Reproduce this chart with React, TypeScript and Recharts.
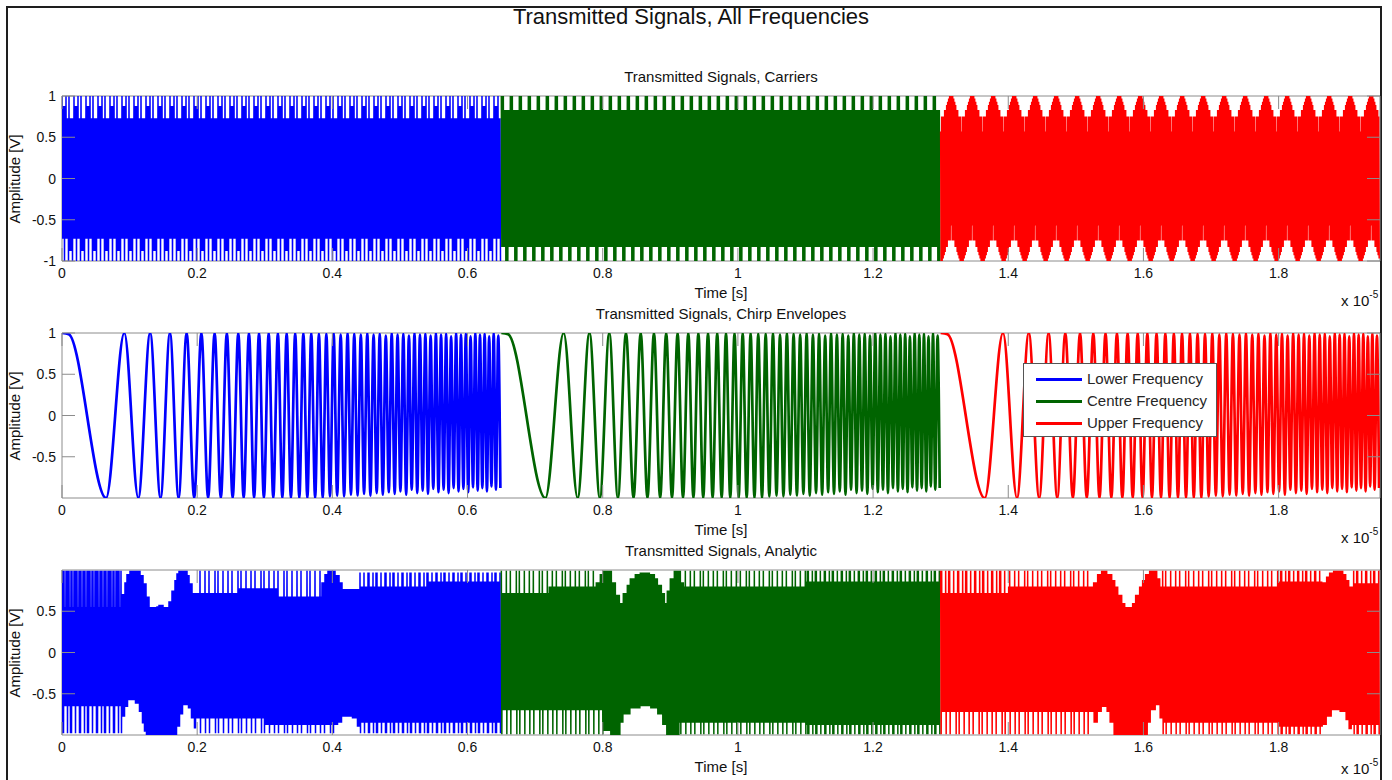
import React from 'react';
import { LineChart, Line, XAxis, YAxis, ReferenceArea } from 'recharts';

// ---------- data ----------

// time axis, in units of 1e-5 s
const timeDomain: [number, number] = [0, 1.95];
const timeTicks = [0, 0.2, 0.4, 0.6, 0.8, 1, 1.2, 1.4, 1.6, 1.8];
const timeTickLabels = ['0', '0.2', '0.4', '0.6', '0.8', '1', '1.2', '1.4', '1.6', '1.8'];

const segmentStarts = [0, 0.65, 1.3];
const segmentLength = 0.65;

const seriesNames = ['Lower Frequency', 'Centre Frequency', 'Upper Frequency'];
const seriesColours = ['#0000ff', '#006400', '#ff0000'];

const panelTitles = [
  'Transmitted Signals, Carriers',
  'Transmitted Signals, Chirp Envelopes',
  'Transmitted Signals, Analytic',
];
const carrierAmpTicks = [-1, -0.5, 0, 0.5, 1];
const chirpAmpTicks = [-0.5, 0, 0.5, 1];
const analyticAmpTicks = [-0.5, 0, 0.5];

// carriers: crest / trough level of each plotted sample over one repeat of the pattern
const lowerCarrierCrests = [1, 0.88, 0.88, 0.88, 1, 0.73, 0.73, 1, 0.73, 0.73, 0.73, 0.73];
const lowerCarrierTroughs = [-0.73, -0.73, -1, -0.73, -0.73, -0.73, -1, -0.88, -0.88, -0.88, -1, -0.73];
const centreCarrierCrests = [1, 1, 1, 0.83, 0.83, 0.83, 0.83, 0.83, 0.83];
const centreCarrierTroughs = [-0.83, -0.83, -0.83, -0.83, -1, -1, -1, -0.83, -0.83];
const upperCarrierCrests = [0.57, 0.75, 0.75, 0.75, 0.83, 0.83, 0.89, 0.93, 0.97, 1, 1, 1, 1, 0.97, 0.93, 0.89, 0.83, 0.83, 0.75, 0.75, 0.75];
const upperCarrierTroughs = [-1, -1, -0.97, -0.93, -0.89, -0.83, -0.83, -0.75, -0.75, -0.75, -0.57, -0.75, -0.75, -0.75, -0.83, -0.83, -0.89, -0.93, -0.97, -1, -1];

// chirp envelope: turning points (time from segment start, level)
const chirpTurnTimes = [
  0, 0.01, 0.0652, 0.0922, 0.1129, 0.1304, 0.1458, 0.1597, 0.1725, 0.1844, 0.1956,
  0.2062, 0.2162, 0.2258, 0.235, 0.2439, 0.2525, 0.2608, 0.2688, 0.2766, 0.2842,
  0.2915, 0.2987, 0.3058, 0.3126, 0.3194, 0.326, 0.3324, 0.3387, 0.345, 0.3511,
  0.3571, 0.363, 0.3688, 0.3745, 0.3801, 0.3857, 0.3911, 0.3965, 0.4019, 0.4071,
  0.4123, 0.4174, 0.4225, 0.4275, 0.4324, 0.4373, 0.4421, 0.4469, 0.4517, 0.4563,
  0.461, 0.4656, 0.4701, 0.4746, 0.4791, 0.4835, 0.4878, 0.4922, 0.4965, 0.5007,
  0.505, 0.5092, 0.5133, 0.5174, 0.5215, 0.5256, 0.5296, 0.5336, 0.5376, 0.5415,
  0.5454, 0.5493, 0.5532, 0.557, 0.5608, 0.5646, 0.5683, 0.572, 0.5757, 0.5794,
  0.5831, 0.5867, 0.5903, 0.5939, 0.5975, 0.601, 0.6045, 0.6081, 0.6115, 0.615,
  0.6184, 0.6219, 0.6253, 0.6287, 0.632, 0.6354, 0.6387, 0.642, 0.6454, 0.6486,
];
const chirpTurnLevels = [
  1, 0.985, -1, 1, -1, 1, -1, 1, -1, 1, -1,
  1, -1, 1, -1, 1, -1, 1, -1, 1, -1,
  1, -1, 1, -1, 1, -1, 1, -1, 1, -1,
  1, -1, 1, -1, 0.99, -1, 0.99, -0.98, 1, -0.97,
  0.98, -0.98, 1, -0.96, 0.99, -0.97, 0.98, -0.95, 1, -0.97,
  0.98, -0.94, 0.99, -0.96, 0.97, -0.93, 1, -0.95, 0.98, -0.92,
  0.99, -0.96, 0.97, -0.9, 1, -0.94, 0.98, -0.91, 0.99, -0.95,
  0.97, -0.89, 1, -0.93, 0.98, -0.9, 0.99, -0.94, 0.96, -0.88,
  1, -0.92, 0.98, -0.89, 0.99, -0.93, 0.96, -0.87, 1, -0.91,
  0.98, -0.88, 0.99, -0.92, 0.96, -0.86, 1, -0.9, 0.97, -0.88,
];

// analytic signal: which samples of a spiky stretch reach the outer level
const spikeMasks = [
  [1, 0, 0, 0, 0, 1, 0, 0, 0, 1, 0, 0, 0, 0, 0, 1, 0, 0, 1, 0, 0, 0, 0],
  [1, 1, 1, 0, 1, 1, 1, 1, 0, 1, 1, 0, 1, 1, 1, 1, 0, 1, 1, 1, 0],
  [1, 1, 0, 0, 0, 1, 0, 0, 1, 1, 0, 0, 0, 1, 0, 0, 0],
];

// analytic signal outline: [time from segment start, outer level, inner level, spike mask]
// rows with two entries are solid (every sample at that level)
type Knot = number[];
const lowerAnalyticUpper: Knot[] = [
  [0, 0.99, 0.55, 1], [0.088, 0.71], [0.092, 0.85], [0.096, 0.95], [0.1, 0.99], [0.116, 0.94],
  [0.12, 0.84], [0.125, 0.68], [0.13, 0.55], [0.14, 0.56], [0.143, 0.58], [0.15, 0.55], [0.158, 0.62],
  [0.162, 0.75], [0.166, 0.88], [0.17, 0.96], [0.173, 0.99], [0.185, 0.94], [0.189, 0.84], [0.193, 0.72],
  [0.197, 0.99, 0.72, 0], [0.26, 0.99, 0.78, 0], [0.32, 0.99, 0.68, 0], [0.384, 0.85], [0.389, 0.95],
  [0.393, 0.99], [0.405, 0.94], [0.41, 0.85], [0.415, 0.77], [0.44, 0.97, 0.8, 2], [0.54, 0.97, 0.86, 2],
];
const lowerAnalyticLower: Knot[] = [
  [0, -0.98, -0.65, 2], [0.088, -0.78], [0.092, -0.66], [0.097, -0.58], [0.108, -0.62], [0.113, -0.72],
  [0.117, -0.86], [0.121, -0.96], [0.124, -1], [0.17, -0.9], [0.174, -0.75], [0.178, -0.64], [0.186, -0.68],
  [0.19, -0.8], [0.194, -0.92], [0.197, -0.98, -0.8, 0], [0.3, -0.98, -0.88, 0], [0.408, -0.85],
  [0.414, -0.78], [0.428, -0.8], [0.436, -0.9], [0.44, -0.98, -0.85, 2],
];
const centreAnalyticUpper: Knot[] = [
  [0, 0.99, 0.72, 0], [0.07, 0.99, 0.8, 0], [0.14, 0.85], [0.146, 0.95], [0.15, 0.99], [0.163, 0.85],
  [0.17, 0.7], [0.175, 0.6], [0.18, 0.72], [0.185, 0.82], [0.19, 0.9], [0.197, 0.95], [0.205, 0.97],
  [0.22, 0.95], [0.227, 0.9], [0.232, 0.82], [0.237, 0.72], [0.242, 0.6], [0.245, 0.75], [0.25, 0.9],
  [0.255, 0.99], [0.265, 0.85], [0.27, 0.99, 0.8, 0], [0.45, 0.99, 0.86, 2],
];
const centreAnalyticLower: Knot[] = [
  [0, -0.99, -0.7, 0], [0.15, -0.95], [0.16, -1], [0.175, -0.85], [0.18, -0.75], [0.19, -0.68],
  [0.205, -0.65], [0.22, -0.68], [0.23, -0.75], [0.237, -0.88], [0.243, -1], [0.262, -0.99, -0.85, 0],
  [0.45, -0.99, -0.88, 2],
];
const upperAnalyticUpper: Knot[] = [
  [0, 0.99, 0.72, 2], [0.1, 0.99, 0.8, 0], [0.225, 0.85], [0.232, 0.95], [0.237, 0.99], [0.247, 0.95],
  [0.253, 0.88], [0.258, 0.8], [0.263, 0.7], [0.268, 0.6], [0.273, 0.55], [0.283, 0.6], [0.288, 0.7],
  [0.293, 0.8], [0.298, 0.88], [0.303, 0.95], [0.308, 0.99], [0.32, 0.9], [0.325, 0.99, 0.8, 0],
  [0.5, 0.99, 0.86, 2], [0.565, 0.85], [0.57, 0.92], [0.575, 0.97], [0.58, 0.99], [0.595, 0.95],
  [0.6, 0.88], [0.605, 0.8], [0.61, 0.99, 0.84, 2],
];
const upperAnalyticLower: Knot[] = [
  [0, -0.99, -0.72, 0], [0.225, -0.85], [0.232, -0.72], [0.237, -0.66], [0.245, -0.72], [0.25, -0.85],
  [0.255, -1], [0.305, -0.85], [0.31, -0.7], [0.318, -0.64], [0.323, -0.8], [0.327, -0.99, -0.85, 0],
  [0.5, -0.99, -0.9, 2], [0.565, -0.88], [0.57, -0.78], [0.578, -0.7], [0.59, -0.72], [0.598, -0.82],
  [0.603, -0.93], [0.608, -0.99, -0.88, 2],
];

// ---------- layout ----------

const FONT = '"Liberation Sans", Arial, Helvetica, sans-serif';
const AXIS_GREY = '#8c8c8c';
const INK = '#111111';
const FIG_W = 1392;
const PLOT_LEFT = 62;
const PLOT_RIGHT = 1380;
const PLOT_H = 165;
const TOP_PAD = 10;
const XAXIS_H = 50;
const TICK_LEN = 13;
const PANEL_TOPS = [96, 333, 570];

// one plotted sample column per screen pixel
const COL = (timeDomain[1] - timeDomain[0]) / (PLOT_RIGHT - PLOT_LEFT);

type Pt = { t: number; v: number };

function knotLevel(knots: Knot[], c: number, rel: number): number {
  let k = knots[0];
  for (const kn of knots) {
    if (kn[0] <= rel + 1e-9) k = kn;
    else break;
  }
  if (k.length < 4) return k[1];
  const mask = spikeMasks[k[3]];
  return mask[c % mask.length] ? k[1] : k[2];
}

function band(start: number, top: (c: number, rel: number) => number, bottom: (c: number, rel: number) => number): Pt[] {
  const n = Math.floor(segmentLength / COL + 1e-6);
  const out: Pt[] = [];
  for (let c = 0; c < n; c++) {
    const rel = c * COL;
    out.push({ t: start + rel, v: top(c, rel) });
    out.push({ t: start + rel + COL / 2, v: bottom(c, rel) });
  }
  return out;
}

const carrierPatterns = [
  [lowerCarrierCrests, lowerCarrierTroughs],
  [centreCarrierCrests, centreCarrierTroughs],
  [upperCarrierCrests, upperCarrierTroughs],
];
const analyticOutlines = [
  [lowerAnalyticUpper, lowerAnalyticLower],
  [centreAnalyticUpper, centreAnalyticLower],
  [upperAnalyticUpper, upperAnalyticLower],
];

const carrierSeries = segmentStarts.map((s, i) =>
  band(
    s,
    (c) => carrierPatterns[i][0][c % carrierPatterns[i][0].length],
    (c) => carrierPatterns[i][1][c % carrierPatterns[i][1].length],
  ),
);
const chirpSeries = segmentStarts.map((s) =>
  chirpTurnTimes.map((t, k) => ({ t: s + t, v: chirpTurnLevels[k] })),
);
const analyticSeries = segmentStarts.map((s, i) =>
  band(
    s,
    (c, rel) => knotLevel(analyticOutlines[i][0], c, rel),
    (c, rel) => knotLevel(analyticOutlines[i][1], c, rel),
  ),
);

// ---------- components ----------

function TimeTick(props: any) {
  const { x, payload } = props;
  const axisY = TOP_PAD + PLOT_H;
  return (
    <g>
      <line x1={x} x2={x} y1={axisY} y2={axisY - TICK_LEN} stroke={AXIS_GREY} />
      <line x1={x} x2={x} y1={TOP_PAD} y2={TOP_PAD + TICK_LEN} stroke={AXIS_GREY} />
      <text x={x} y={axisY + 12} textAnchor="middle" dominantBaseline="central" fontSize={14} fill={INK} fontFamily={FONT}>
        {timeTickLabels[timeTicks.indexOf(payload.value)] ?? String(payload.value)}
      </text>
    </g>
  );
}

function AmpTick(props: any) {
  const { y, payload } = props;
  return (
    <g>
      <line x1={PLOT_LEFT} x2={PLOT_LEFT + TICK_LEN} y1={y} y2={y} stroke={AXIS_GREY} />
      <line x1={PLOT_RIGHT} x2={PLOT_RIGHT - TICK_LEN} y1={y} y2={y} stroke={AXIS_GREY} />
      <text x={PLOT_LEFT - 6} y={y} textAnchor="end" dominantBaseline="central" fontSize={14} fill={INK} fontFamily={FONT}>
        {String(payload.value)}
      </text>
    </g>
  );
}

type PanelProps = {
  index: number;
  ampTicks: number[];
  series: Pt[][];
  curve: 'linear' | 'monotone';
  width: number;
};

function Panel({ index, ampTicks, series, curve, width }: PanelProps) {
  const plotTop = PANEL_TOPS[index];
  const axisY = plotTop + PLOT_H;
  return (
    <>
      <div
        style={{
          position: 'absolute', left: PLOT_LEFT, width: PLOT_RIGHT - PLOT_LEFT, top: plotTop - 27,
          textAlign: 'center', fontSize: 15, lineHeight: '16px', color: INK, whiteSpace: 'nowrap',
        }}
      >
        {panelTitles[index]}
      </div>
      <div style={{ position: 'absolute', left: 0, top: plotTop - TOP_PAD }}>
        <LineChart
          width={FIG_W}
          height={TOP_PAD + PLOT_H + XAXIS_H}
          margin={{ top: TOP_PAD, right: FIG_W - PLOT_RIGHT, bottom: 0, left: 0 }}
        >
          <XAxis
            dataKey="t"
            type="number"
            domain={timeDomain}
            ticks={timeTicks}
            interval={0}
            allowDataOverflow
            height={XAXIS_H}
            axisLine={false}
            tickLine={false}
            tickSize={0}
            tick={<TimeTick />}
          />
          <YAxis
            type="number"
            domain={[-1, 1]}
            ticks={ampTicks}
            interval={0}
            allowDataOverflow
            width={PLOT_LEFT}
            axisLine={false}
            tickLine={false}
            tickSize={0}
            tick={<AmpTick />}
          />
          <ReferenceArea x1={timeDomain[0]} x2={timeDomain[1]} y1={-1} y2={1} fill="none" stroke={AXIS_GREY} strokeWidth={1} ifOverflow="visible" />
          {series.map((data, i) => (
            <Line
              key={seriesNames[i]}
              name={seriesNames[i]}
              data={data}
              dataKey="v"
              type={curve}
              stroke={seriesColours[i]}
              strokeWidth={width}
              dot={false}
              activeDot={false}
              isAnimationActive={false}
            />
          ))}
        </LineChart>
      </div>
      <div
        style={{
          position: 'absolute', left: 15, top: plotTop + PLOT_H / 2, transform: 'translate(-50%, -50%) rotate(-90deg)',
          fontSize: 15, lineHeight: '16px', color: INK, whiteSpace: 'nowrap',
        }}
      >
        Amplitude [V]
      </div>
      <div
        style={{
          position: 'absolute', left: PLOT_LEFT, width: PLOT_RIGHT - PLOT_LEFT, top: axisY + 24,
          textAlign: 'center', fontSize: 15, lineHeight: '16px', color: INK,
        }}
      >
        Time [s]
      </div>
      <div
        style={{
          position: 'absolute', left: 1341, top: Math.min(axisY + 32, 761), fontSize: 15, lineHeight: '16px',
          color: INK, whiteSpace: 'nowrap',
        }}
      >
        x 10<span style={{ fontSize: 10, position: 'relative', top: -8 }}>-5</span>
      </div>
    </>
  );
}

function LegendBox() {
  return (
    <div
      style={{
        position: 'absolute', left: 1023, top: 363, width: 192, height: 72, background: '#fff',
        border: '1px solid #555', fontSize: 15, color: '#262626',
      }}
    >
      {seriesNames.map((name, i) => (
        <div key={name} style={{ position: 'absolute', left: 0, top: 6 + i * 22, height: 18, display: 'flex', alignItems: 'center' }}>
          <div style={{ marginLeft: 12, width: 46, height: 3, background: seriesColours[i] }} />
          <div style={{ marginLeft: 5, whiteSpace: 'nowrap', lineHeight: '18px' }}>{name}</div>
        </div>
      ))}
    </div>
  );
}

export default function App() {
  return (
    <div
      style={{
        position: 'absolute', left: 0, top: 0, width: FIG_W, height: 780, overflow: 'hidden',
        background: '#ffffff', fontFamily: FONT,
      }}
    >
      <div style={{ position: 'absolute', left: 6, top: 6, width: 1372, height: 800, border: '2px solid #1e1e1e' }} />
      <div
        style={{
          position: 'absolute', left: 0, width: 1382, top: 6, textAlign: 'center',
          fontSize: 22, lineHeight: '22px', color: INK, whiteSpace: 'nowrap',
        }}
      >
        Transmitted Signals, All Frequencies
      </div>
      <Panel index={0} ampTicks={carrierAmpTicks} series={carrierSeries} curve="linear" width={1.5} />
      <Panel index={1} ampTicks={chirpAmpTicks} series={chirpSeries} curve="monotone" width={2.7} />
      <Panel index={2} ampTicks={analyticAmpTicks} series={analyticSeries} curve="linear" width={1.5} />
      <LegendBox />
    </div>
  );
}
